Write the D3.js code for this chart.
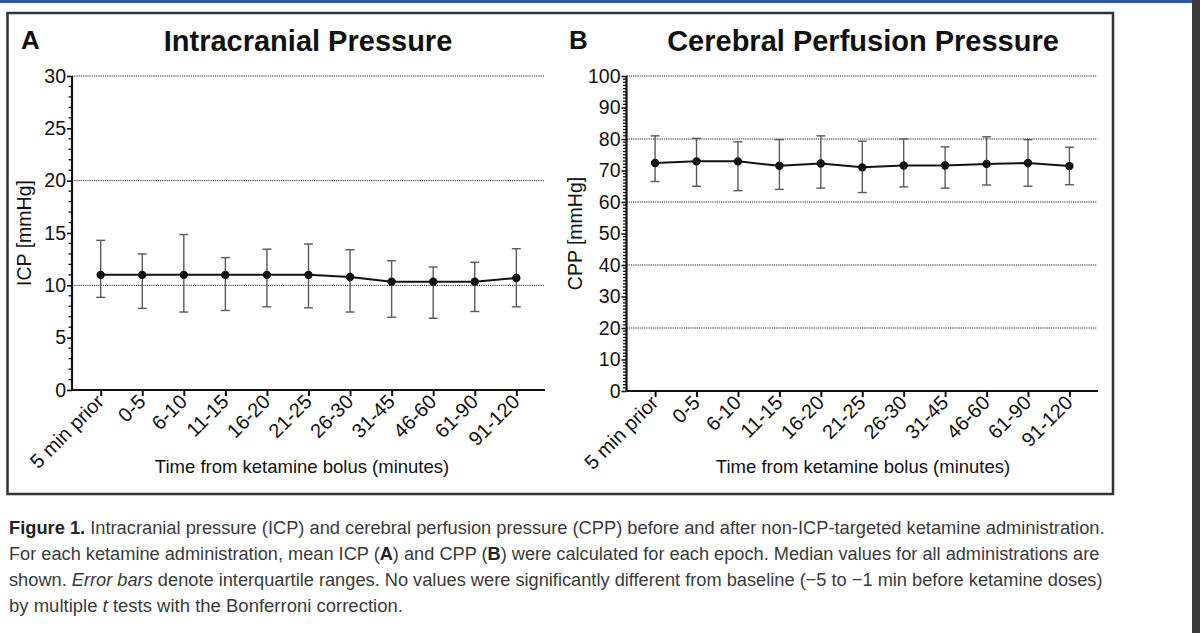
<!DOCTYPE html>
<html>
<head>
<meta charset="utf-8">
<script src="https://cdn.jsdelivr.net/npm/d3@7"></script>
<style>
html,body{margin:0;padding:0;background:#fff;}
svg{display:block;}
</style>
</head>
<body>
<svg id="chart" width="1200" height="633"></svg>
<script>
const categories = ["5 min prior","0-5","6-10","11-15","16-20","21-25","26-30","31-45","46-60","61-90","91-120"];
const icpMedian = [11.0,11.0,11.0,11.0,11.0,11.0,10.8,10.35,10.35,10.35,10.7];
const icpQ1 = [8.85,7.8,7.45,7.6,7.95,7.85,7.45,6.95,6.85,7.5,7.95];
const icpQ3 = [14.3,13.0,14.85,12.65,13.45,13.95,13.4,12.35,11.75,12.2,13.5];
const cppMedian = [72.4,72.9,72.9,71.5,72.2,71.0,71.6,71.6,72.1,72.4,71.4];
const cppQ1 = [66.5,65.0,63.6,64.0,64.4,63.0,64.8,64.4,65.4,65.0,65.5];
const cppQ3 = [81.0,80.2,79.1,79.8,81.0,79.3,80.0,77.5,80.7,79.8,77.4];
const icpTicks = [0,5,10,15,20,25,30];
const icpGrid = [10,20,30];
const cppTicks = [0,10,20,30,40,50,60,70,80,90,100];
const cppGrid = [20,40,60,80,100];
const captionLines = [
  [["Figure 1.", "bold"], [" Intracranial pressure (ICP) and cerebral perfusion pressure (CPP) before and after non-ICP-targeted ketamine administration.", "normal"]],
  [["For each ketamine administration, mean ICP (", "normal"], ["A", "bold"], [") and CPP (", "normal"], ["B", "bold"], [") were calculated for each epoch. Median values for all administrations are", "normal"]],
  [["shown. ", "normal"], ["Error bars", "italic"], [" denote interquartile ranges. No values were significantly different from baseline (\u22125 to \u22121 min before ketamine doses)", "normal"]],
  [["by multiple ", "normal"], ["t", "italic"], [" tests with the Bonferroni correction.", "normal"]]
];

const svg = d3.select("#chart");
const FONT = "'Liberation Sans', Arial, Helvetica, sans-serif";

// page decorations
svg.append("rect").attr("x",0).attr("y",0).attr("width",1200).attr("height",3).attr("fill","#2c5a95");
svg.append("rect").attr("x",1192).attr("y",0).attr("width",8).attr("height",633).attr("fill","#3c3c3c");
svg.append("rect").attr("x",7.5).attr("y",13).attr("width",1105.5).attr("height",481)
  .attr("fill","none").attr("stroke","#333").attr("stroke-width",2.5);

const panels = [
  {letter:"A", title:"Intracranial Pressure", ytitle:"ICP [mmHg]", x0:72, x1:545, yTop:76, yBot:390,
   max:30, ticks:icpTicks, grid:icpGrid, minorStep:1, med:icpMedian, q1:icpQ1, q3:icpQ3,
   letterX:21, titleX:308, xtitleX:302, ytitleX:31},
  {letter:"B", title:"Cerebral Perfusion Pressure", ytitle:"CPP [mmHg]", x0:626.5, x1:1098, yTop:76, yBot:391,
   max:100, ticks:cppTicks, grid:cppGrid, minorStep:1, med:cppMedian, q1:cppQ1, q3:cppQ3,
   letterX:569, titleX:863, xtitleX:863, ytitleX:582}
];

panels.forEach(p => {
  const g = svg.append("g");
  const x = d3.scalePoint().domain(categories).range([p.x0, p.x1]).padding(0.69);
  const y = d3.scaleLinear().domain([0, p.max]).range([p.yBot, p.yTop]);

  // titles
  g.append("text").attr("x", p.letterX).attr("y", 49).attr("font-family", FONT)
    .attr("font-weight","bold").attr("font-size", 26).attr("fill","#111").text(p.letter);
  g.append("text").attr("x", p.titleX).attr("y", 51).attr("text-anchor","middle").attr("font-family", FONT)
    .attr("font-weight","bold").attr("font-size", 29).attr("fill","#111").text(p.title);

  // grid
  g.selectAll(".grid").data(p.grid).join("line")
    .attr("x1", p.x0).attr("x2", p.x1 - 1)
    .attr("y1", d => y(d)).attr("y2", d => y(d))
    .attr("stroke", "#222").attr("stroke-width", 1).attr("stroke-dasharray", "1.2,1");

  // minor ticks
  const minor = d3.range(0, p.max + 0.001, p.minorStep).filter(v => !p.ticks.includes(v));
  g.selectAll(".minor").data(minor).join("line")
    .attr("x1", p.x0 - 3.5).attr("x2", p.x0).attr("y1", d => y(d)).attr("y2", d => y(d))
    .attr("stroke", "#111").attr("stroke-width", 1.3);

  // y axis
  const yAxis = d3.axisLeft(y).tickValues(p.ticks).tickSize(5).tickPadding(1).tickFormat(d3.format("d"));
  const ya = g.append("g").attr("transform", `translate(${p.x0},0)`).call(yAxis);
  ya.select(".domain").attr("stroke","#111").attr("stroke-width",2.2).attr("d", `M0,${p.yBot}V${p.yTop}`);
  ya.selectAll(".tick line").attr("stroke","#111").attr("stroke-width",1.6);
  ya.selectAll(".tick text").attr("font-family", FONT).attr("font-size", 19.5).attr("fill","#111");

  // x axis
  const xAxis = d3.axisBottom(x).tickSize(6).tickPadding(4);
  const xa = g.append("g").attr("transform", `translate(0,${p.yBot})`).call(xAxis);
  xa.select(".domain").attr("stroke","#111").attr("stroke-width",2.2).attr("d", `M${p.x0},0H${p.x1}`);
  xa.selectAll(".tick line").attr("stroke","#111").attr("stroke-width",2);
  xa.selectAll(".tick text").attr("font-family", FONT).attr("font-size", 20).attr("fill","#111")
    .attr("text-anchor","end").attr("dy", null)
    .attr("transform", "translate(4,13) rotate(-45)").attr("y", 0).attr("x", 0);

  // axis titles
  g.append("text").attr("transform", `translate(${p.ytitleX},${(p.yTop + p.yBot)/2}) rotate(-90)`)
    .attr("text-anchor","middle").attr("font-family", FONT).attr("font-size", 19.5).attr("fill","#111").text(p.ytitle);
  g.append("text").attr("x", p.xtitleX).attr("y", 473).attr("text-anchor","middle")
    .attr("font-family", FONT).attr("font-size", 18.5).attr("fill","#111").text("Time from ketamine bolus (minutes)");

  // error bars
  const eb = g.append("g");
  categories.forEach((c, i) => {
    const cx = x(c);
    eb.append("line").attr("x1", cx).attr("x2", cx).attr("y1", y(p.q1[i])).attr("y2", y(p.q3[i]))
      .attr("stroke","#5a5a5a").attr("stroke-width",1.4);
    [p.q1[i], p.q3[i]].forEach(v => {
      eb.append("line").attr("x1", cx - 4.5).attr("x2", cx + 4.5).attr("y1", y(v)).attr("y2", y(v))
        .attr("stroke","#5a5a5a").attr("stroke-width",1.4);
    });
  });

  // median line
  const line = d3.line().x((d,i) => x(categories[i])).y(d => y(d));
  g.append("path").datum(p.med).attr("d", line).attr("fill","none").attr("stroke","#111").attr("stroke-width",2);
  g.selectAll(".pt").data(p.med).join("circle")
    .attr("cx", (d,i) => x(categories[i])).attr("cy", d => y(d)).attr("r", 4.2).attr("fill","#111");
});

// caption: condensed by horizontal scaling of each line
const capY = [534, 560, 586, 612];
const capW = [1097, 1091, 1094, 394];
captionLines.forEach((parts, li) => {
  const t = svg.append("text").attr("x", 0).attr("y", 0).attr("font-family", FONT)
    .attr("font-size", 19).attr("fill","#3a3a3a");
  parts.forEach(([s, st]) => {
    const ts = t.append("tspan").text(s);
    if (st === "bold") ts.attr("font-weight","bold").attr("fill","#222");
    if (st === "italic") ts.attr("font-style","italic");
  });
  const natural = t.node().getComputedTextLength();
  const sx = capW[li] / natural;
  t.attr("transform", `translate(9,${capY[li]}) scale(${sx},1)`);
});
</script>
</body>
</html>
